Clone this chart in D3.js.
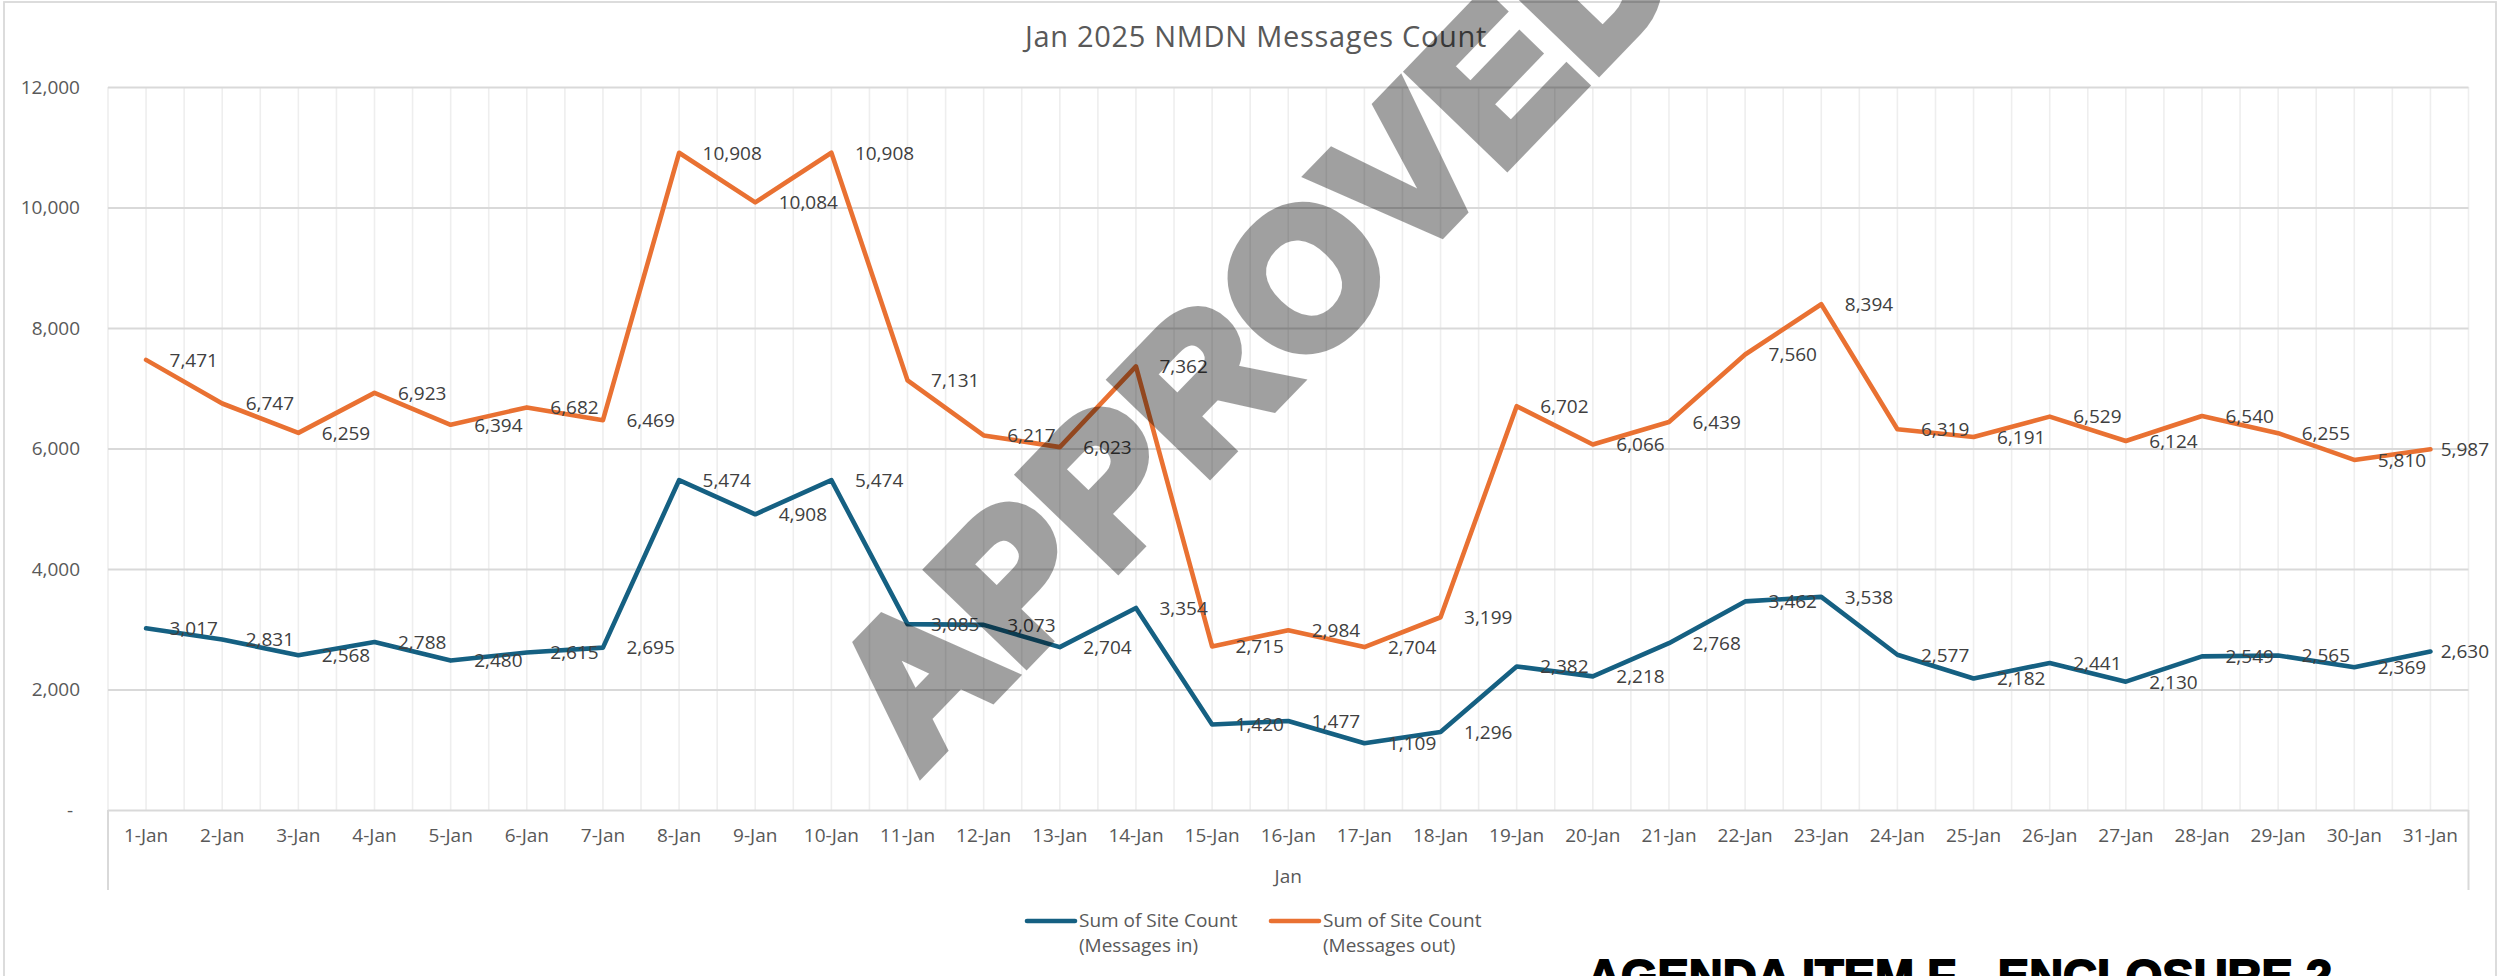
<!DOCTYPE html>
<html>
<head>
<meta charset="utf-8">
<script src="https://cdn.jsdelivr.net/npm/d3@7"></script>
<style>
  html, body { margin: 0; padding: 0; background: #fff; overflow: hidden; }
  svg { display: block; font-family: 'Open Sans', sans-serif; }
</style>
</head>
<body>
<div class="line-chart-messages"><svg></svg></div>
<script>
const days = [
  '1-Jan', '2-Jan', '3-Jan', '4-Jan', '5-Jan', '6-Jan', '7-Jan', '8-Jan',
  '9-Jan', '10-Jan', '11-Jan', '12-Jan', '13-Jan', '14-Jan', '15-Jan',
  '16-Jan', '17-Jan', '18-Jan', '19-Jan', '20-Jan', '21-Jan', '22-Jan',
  '23-Jan', '24-Jan', '25-Jan', '26-Jan', '27-Jan', '28-Jan', '29-Jan',
  '30-Jan', '31-Jan'
];

const messagesIn = [
  3017, 2831, 2568, 2788, 2480, 2615, 2695, 5474, 4908, 5474, 3085, 3073,
  2704, 3354, 1420, 1477, 1109, 1296, 2382, 2218, 2768, 3462, 3538, 2577,
  2182, 2441, 2130, 2549, 2565, 2369, 2630
];

const messagesOut = [
  7471, 6747, 6259, 6923, 6394, 6682, 6469, 10908, 10084, 10908, 7131, 6217,
  6023, 7362, 2715, 2984, 2704, 3199, 6702, 6066, 6439, 7560, 8394, 6319,
  6191, 6529, 6124, 6540, 6255, 5810, 5987
];

const yTicks = [0, 2000, 4000, 6000, 8000, 10000, 12000];

const seriesLabels = [
  ['Sum of Site Count', '(Messages in)'],
  ['Sum of Site Count', '(Messages out)']
];

const chartTitle = 'Jan 2025 NMDN Messages Count';
const xAxisTitle = 'Jan';
const watermark = 'APPROVED';
const footerText = 'AGENDA ITEM F - ENCLOSURE 2';

const colors = ['#156082', '#E97132'];

const W = 2499;
const H = 976;
const plot = { left: 108, right: 2468.5, top: 87, bottom: 810 };
const labelLimit = 2489;

const svg = d3.select('svg').attr('width', W).attr('height', H);

// chart frame
svg.append('rect')
  .attr('x', 4)
  .attr('y', 2)
  .attr('width', 2492)
  .attr('height', 1100)
  .attr('fill', '#fff')
  .attr('stroke', '#D9D9D9')
  .attr('stroke-width', 1.8);

const x = d3.scaleBand().domain(days).range([plot.left, plot.right]).padding(0);
const y = d3.scaleLinear().domain([0, 12000]).range([plot.bottom, plot.top]);
const bw = x.bandwidth();

// vertical grid: band edges and centres
const vLines = [];
days.forEach(d => {
  vLines.push(x(d));
  vLines.push(x(d) + bw / 2);
});
vLines.push(plot.right);

svg.append('g')
  .selectAll('line')
  .data(vLines)
  .join('line')
  .attr('x1', d => d)
  .attr('x2', d => d)
  .attr('y1', plot.top)
  .attr('y2', plot.bottom)
  .attr('stroke', '#EEEEEE')
  .attr('stroke-width', 1.6);

// y axis with horizontal gridlines
const axisY = d3.axisLeft(y)
  .tickValues(yTicks)
  .tickSize(-(plot.right - plot.left))
  .tickPadding(28)
  .tickFormat(d => (d === 0 ? '-' : d3.format(',')(d)));

const gy = svg.append('g')
  .attr('transform', `translate(${plot.left},0)`)
  .call(axisY);

gy.select('.domain').remove();
gy.selectAll('.tick line').attr('stroke', '#D9D9D9').attr('stroke-width', 2);
gy.selectAll('.tick text')
  .attr('fill', '#595959')
  .attr('font-size', 19)
  .attr('font-family', "'Open Sans', sans-serif")
  .attr('x', d => (d === 0 ? -35 : -28));

// x axis
const axisX = d3.axisBottom(x).tickSize(0).tickPadding(19);
const gx = svg.append('g')
  .attr('transform', `translate(0,${plot.bottom})`)
  .call(axisX);
gx.select('.domain').remove();
gx.selectAll('.tick text')
  .attr('fill', '#595959')
  .attr('font-size', 19)
  .attr('font-family', "'Open Sans', sans-serif");

// category axis side lines
svg.append('g')
  .selectAll('line')
  .data([plot.left, plot.right])
  .join('line')
  .attr('x1', d => d)
  .attr('x2', d => d)
  .attr('y1', plot.bottom)
  .attr('y2', 890)
  .attr('stroke', '#D9D9D9')
  .attr('stroke-width', 2);

// series lines
const line = d3.line()
  .x((d, i) => x(days[i]) + bw / 2)
  .y(d => y(d));

const series = [messagesIn, messagesOut];

svg.append('g')
  .selectAll('path')
  .data(series)
  .join('path')
  .attr('d', d => line(d))
  .attr('fill', 'none')
  .attr('stroke', (d, i) => colors[i])
  .attr('stroke-width', 4.6)
  .attr('stroke-linejoin', 'round')
  .attr('stroke-linecap', 'round');

// data labels, placed right of each point (pulled back in at the right edge)
series.forEach(values => {
  svg.append('g')
    .selectAll('text')
    .data(values)
    .join('text')
    .attr('x', (d, i) => x(days[i]) + bw / 2 + 23.5)
    .attr('y', d => y(d))
    .attr('dy', '0.36em')
    .attr('fill', '#404040')
    .attr('font-size', 19)
    .text(d => d3.format(',')(d))
    .each(function () {
      const el = d3.select(this);
      const w = this.getComputedTextLength();
      const x0 = +el.attr('x');
      if (x0 + w > labelLimit) el.attr('x', labelLimit - w);
    });
});

// title
svg.append('text')
  .attr('x', 1256)
  .attr('y', 47)
  .attr('text-anchor', 'middle')
  .attr('fill', '#595959')
  .attr('font-size', 29)
  .attr('letter-spacing', 0.7)
  .text(chartTitle);

// axis title
svg.append('text')
  .attr('x', (plot.left + plot.right) / 2)
  .attr('y', 883)
  .attr('text-anchor', 'middle')
  .attr('fill', '#595959')
  .attr('font-size', 19)
  .text(xAxisTitle);

// legend
const legendX = [1025, 1269];
const legend = svg.append('g')
  .selectAll('g')
  .data(seriesLabels)
  .join('g')
  .attr('transform', (d, i) => `translate(${legendX[i]},921)`);

legend.append('line')
  .attr('x1', 2)
  .attr('x2', 50)
  .attr('stroke', (d, i) => colors[i])
  .attr('stroke-width', 4.6)
  .attr('stroke-linecap', 'round');

legend.append('text')
  .attr('x', 54)
  .attr('y', 6)
  .attr('fill', '#595959')
  .attr('font-size', 19)
  .selectAll('tspan')
  .data(d => d)
  .join('tspan')
  .attr('x', 54)
  .attr('dy', (d, i) => (i === 0 ? 0 : 25))
  .text(d => d);

// watermark
svg.append('text')
  .attr('transform', 'translate(1254,326) rotate(-46)')
  .attr('text-anchor', 'middle')
  .attr('dy', '0.36em')
  .attr('font-family', "'Liberation Sans', Arial, sans-serif")
  .attr('font-weight', 'bold')
  .attr('font-size', 192)
  .attr('letter-spacing', 4)
  .attr('fill', '#000')
  .attr('stroke', '#000')
  .attr('stroke-width', 13)
  .attr('stroke-linejoin', 'miter')
  .attr('opacity', 0.37)
  .text(watermark);

// footer stamp
svg.append('text')
  .attr('x', 1587)
  .attr('y', 992)
  .attr('font-family', "'Liberation Sans', Arial, sans-serif")
  .attr('font-weight', 'bold')
  .attr('font-size', 47)
  .attr('fill', '#000')
  .attr('stroke', '#000')
  .attr('stroke-width', 1.8)
  .text(footerText);
</script>
</body>
</html>
